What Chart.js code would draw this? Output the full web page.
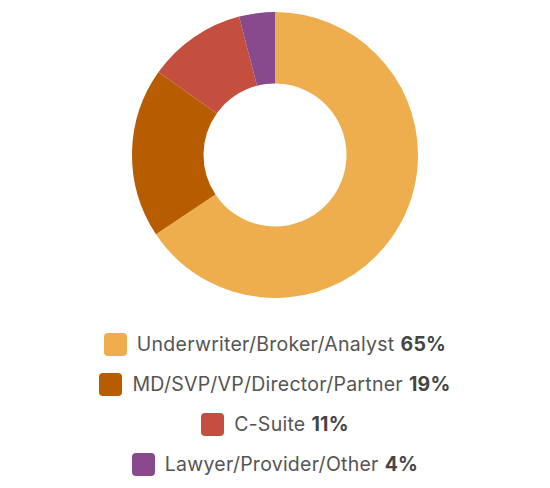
<!DOCTYPE html>
<html>
<head>
<meta charset="utf-8">
<script src="https://cdn.jsdelivr.net/npm/chart.js@4/dist/chart.umd.min.js"></script>
<style>
  body { margin: 0; background: #fff; font-family: Inter, "Open Sans", sans-serif; }
  #wrap { width: 550px; height: 310px; position: relative; }
  #legend { width: 550px; display: flex; flex-direction: column; align-items: center; margin-top: 14px; }
  .item { display: flex; align-items: center; height: 40px; font-size: 19.5px; color: #555; letter-spacing: 0.25px; }
  .box { width: 23px; height: 23px; border-radius: 4px; margin-right: 10px; }
  .item b { color: #454545; margin-left: 6px; font-weight: 700; }
</style>
</head>
<body>
<div id="wrap"><canvas id="myChart"></canvas></div>
<div id="legend"></div>
<script>
const labels = ["Underwriter/Broker/Analyst", "MD/SVP/VP/Director/Partner", "C-Suite", "Lawyer/Provider/Other"];
const percents = [65, 19, 11, 4];
const colors = ["#EFAE4E", "#B85C00", "#C44F3F", "#884A8C"];

const ctx = document.getElementById("myChart").getContext("2d");
const myChart = new Chart(ctx, {
  type: "doughnut",
  data: {
    labels: labels,
    datasets: [
      {
        data: percents,
        backgroundColor: colors,
        borderWidth: 0,
      },
    ],
  },
  options: {
    responsive: true,
    maintainAspectRatio: false,
    animation: false,
    cutout: "50%",
    layout: { padding: { top: 12, bottom: 12 } },
    plugins: {
      legend: { display: false },
      tooltip: { enabled: false },
    },
  },
});

// leyenda en html con el porcentaje en negrita
const legend = document.getElementById("legend");
labels.forEach((lab, i) => {
  const row = document.createElement("div");
  row.className = "item";
  row.innerHTML =
    '<span class="box" style="background:' + colors[i] + '"></span>' +
    lab + "<b>" + percents[i] + "%</b>";
  legend.appendChild(row);
});
</script>
</body>
</html>
